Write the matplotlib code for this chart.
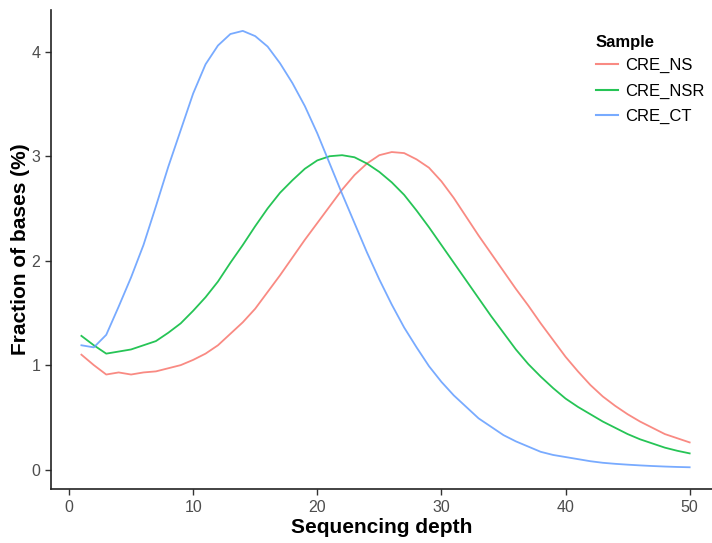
import matplotlib
matplotlib.use("Agg")
from matplotlib import pyplot as plt

plt.rcParams['font.family'] = ['Liberation Sans', 'DejaVu Sans']

# sequencing depth 1..50
depth = list(range(1, 51))

cre_ns = [1.10, 1.00, 0.91, 0.93, 0.91, 0.93, 0.94, 0.97, 1.00, 1.05,
          1.11, 1.19, 1.30, 1.41, 1.54, 1.70, 1.86, 2.03, 2.20, 2.36,
          2.52, 2.68, 2.82, 2.93, 3.01, 3.04, 3.03, 2.97, 2.89, 2.76,
          2.60, 2.42, 2.24, 2.07, 1.90, 1.73, 1.57, 1.40, 1.24, 1.08,
          0.94, 0.81, 0.70, 0.61, 0.53, 0.46, 0.40, 0.34, 0.30, 0.26]

cre_nsr = [1.28, 1.19, 1.11, 1.13, 1.15, 1.19, 1.23, 1.31, 1.40, 1.52,
           1.65, 1.80, 1.98, 2.15, 2.33, 2.50, 2.65, 2.77, 2.88, 2.96,
           3.00, 3.01, 2.99, 2.93, 2.85, 2.75, 2.63, 2.48, 2.32, 2.15,
           1.98, 1.81, 1.64, 1.47, 1.31, 1.15, 1.01, 0.89, 0.78, 0.68,
           0.60, 0.53, 0.46, 0.40, 0.34, 0.29, 0.25, 0.21, 0.18, 0.155]

cre_ct = [1.19, 1.17, 1.29, 1.56, 1.84, 2.15, 2.52, 2.90, 3.25, 3.60,
          3.88, 4.06, 4.17, 4.20, 4.15, 4.05, 3.89, 3.70, 3.48, 3.22,
          2.93, 2.64, 2.36, 2.08, 1.82, 1.58, 1.36, 1.17, 0.99, 0.84,
          0.71, 0.60, 0.49, 0.41, 0.33, 0.27, 0.22, 0.17, 0.14, 0.12,
          0.10, 0.08, 0.065, 0.055, 0.047, 0.040, 0.034, 0.029, 0.025, 0.022]

samples = ["CRE_NS", "CRE_NSR", "CRE_CT"]
colors = ["#F8766D", "#00BA38", "#619CFF"]

fig = plt.figure(figsize=(7.12, 5.43), dpi=100)
ax = fig.add_axes([51 / 712, 54 / 543, (712 - 51) / 712, (489 - 10) / 543])

for vals, name, col in zip([cre_ns, cre_nsr, cre_ct], samples, colors):
    ax.plot(depth, vals, color=col, lw=1.3, alpha=0.85, label=name)

ax.set_xlim(-1.45, 51.8)
ax.set_ylim(-0.186, 4.40)
ax.set_xticks([0, 10, 20, 30, 40, 50])
ax.set_yticks([0, 1, 2, 3, 4])

for side in ["top", "right"]:
    ax.spines[side].set_visible(False)
for side in ["left", "bottom"]:
    ax.spines[side].set_linewidth(1.2)
    ax.spines[side].set_color("#222222")

ax.tick_params(axis="both", length=4.3, width=1, color="#333333",
               labelsize=11.5, labelcolor="#4D4D4D", pad=3.5)

ax.set_xlabel("Sequencing depth", fontsize=15, fontweight="bold", labelpad=2)
ax.set_ylabel("Fraction of bases (%)", fontsize=15, fontweight="bold", labelpad=1)

leg = ax.legend(title="Sample", loc="upper left", bbox_to_anchor=(596 / 712, 1 - 35 / 543),
                bbox_transform=fig.transFigure, frameon=False, fontsize=12,
                borderpad=0, borderaxespad=0,
                handlelength=1.3, handletextpad=0.45, labelspacing=0.62)
leg.get_title().set_fontweight("bold")
leg.get_title().set_fontsize(12)
leg._legend_box.align = "left"
leg._legend_box.sep = 6
for h in leg.get_lines():
    h.set_linewidth(1.5)

fig.savefig("out.png", dpi=100)
